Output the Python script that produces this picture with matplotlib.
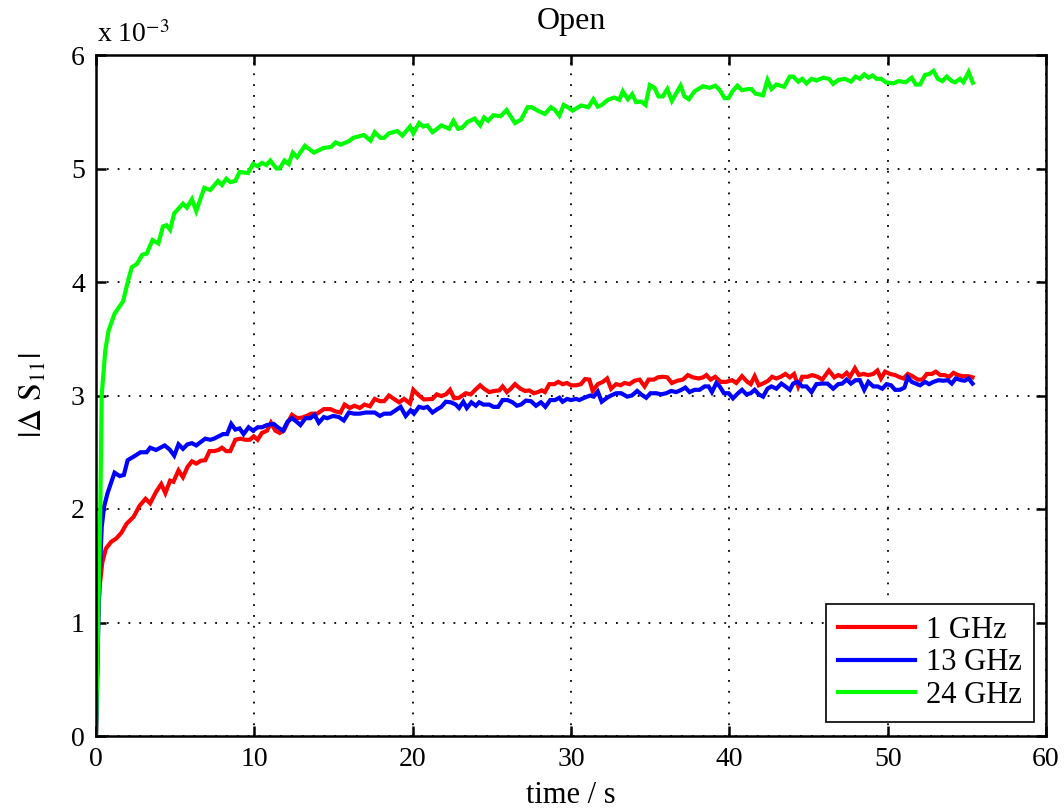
import matplotlib
matplotlib.use("Agg")
import matplotlib.pyplot as plt

# ---------------- data (values in units of 1e-3) ----------------
t_1ghz = [0, 0.12, 0.23, 0.4, 0.62, 0.95, 1.28, 1.6, 1.93, 2.37, 2.76, 3.13, 3.42, 3.79, 4.12, 4.38,
          4.68, 4.89, 5.21, 5.49, 5.78, 6.06, 6.33, 6.62, 6.9, 7.17, 7.46, 7.74, 7.95, 8.23, 8.48, 8.8,
          9.11, 9.43, 9.71, 9.96, 10.21, 10.48, 10.8, 11.05, 11.33, 11.6, 11.86, 12.1, 12.38, 12.7, 13.0,
          13.3, 13.6, 13.97, 14.39, 14.8, 15.13, 15.44, 15.7, 16.03, 16.33, 16.66, 16.96, 17.3, 17.6,
          17.93, 18.2, 18.5, 18.82, 19.14, 19.46, 19.83, 20.04, 20.4, 20.72, 21.25, 21.52, 21.81, 22.1,
          22.36, 22.62, 22.93, 23.35, 23.67, 23.99, 24.26, 24.51, 24.83, 25.15, 25.47, 25.68, 25.95, 26.2,
          26.46, 26.8, 27.1, 27.37, 27.65, 27.9, 28.15, 28.35, 28.63, 28.95, 29.2, 29.47, 29.75, 30.0,
          30.32, 30.63, 30.89, 31.16, 31.37, 31.69, 32.01, 32.28, 32.53, 32.85, 33.12, 33.38, 33.7, 34.01,
          34.33, 34.65, 34.9, 35.24, 35.49, 35.8, 36.08, 36.37, 36.71, 37.07, 37.38, 37.7, 38.06, 38.34,
          38.55, 38.82, 39.11, 39.45, 39.81, 40.17, 40.44, 40.8, 41.14, 41.35, 41.6, 41.86, 42.19, 42.45,
          42.7, 42.97, 43.25, 43.54, 43.82, 44.09, 44.35, 44.6, 44.94, 45.23, 45.57, 45.87, 46.29, 46.63,
          46.88, 47.13, 47.41, 47.62, 47.93, 48.18, 48.46, 48.78, 49.09, 49.35, 49.58, 49.83, 50.15, 50.47,
          50.78, 51.0, 51.27, 51.57, 51.9, 52.2, 52.47, 52.79, 53.04, 53.32, 53.59, 53.89, 54.16, 54.44,
          54.73, 55.11, 55.36]
s_1ghz = [0, 1.0, 1.32, 1.53, 1.65, 1.71, 1.74, 1.79, 1.87, 1.93, 2.03, 2.09, 2.05, 2.15, 2.22, 2.14,
          2.25, 2.24, 2.34, 2.28, 2.37, 2.42, 2.40, 2.425, 2.43, 2.51, 2.51, 2.52, 2.54, 2.51, 2.51, 2.61,
          2.62, 2.61, 2.61, 2.64, 2.61, 2.67, 2.69, 2.76, 2.69, 2.67, 2.69, 2.76, 2.83, 2.80, 2.805,
          2.82, 2.84, 2.84, 2.88, 2.88, 2.86, 2.85, 2.92, 2.89, 2.91, 2.89, 2.92, 2.905, 2.97,
          2.95, 2.95, 3.00, 2.97, 2.94, 2.97, 2.93, 3.05, 3.00, 2.965, 2.97, 3.01, 2.995, 3.01,
          3.05, 2.975, 2.98, 3.02, 3.01, 3.055, 3.09, 3.06, 3.03, 3.04, 3.045, 3.08, 3.03, 3.06,
          3.10, 3.06, 3.04, 3.045, 3.02, 3.03, 3.045, 3.03, 3.10, 3.10, 3.12, 3.10, 3.11, 3.09,
          3.09, 3.10, 3.145, 3.14, 3.04, 3.10, 3.12, 3.15, 3.06, 3.10, 3.09, 3.11, 3.10, 3.13,
          3.14, 3.08, 3.14, 3.14, 3.16, 3.165, 3.16, 3.11, 3.13, 3.14, 3.18, 3.16, 3.15, 3.16,
          3.18, 3.14, 3.165, 3.12, 3.12, 3.135, 3.11, 3.17, 3.12, 3.10, 3.17, 3.09, 3.11, 3.13,
          3.165, 3.15, 3.165, 3.19, 3.16, 3.19, 3.08, 3.165, 3.165, 3.18, 3.165, 3.14, 3.22, 3.16,
          3.18, 3.165, 3.20, 3.165, 3.24, 3.18, 3.19, 3.18, 3.19, 3.22, 3.15, 3.21, 3.19, 3.18,
          3.16, 3.15, 3.19, 3.17, 3.14, 3.14, 3.19, 3.19, 3.21, 3.18, 3.18, 3.165, 3.20, 3.18,
          3.17, 3.17, 3.16]

t_13ghz = [0, 0.18, 0.36, 0.51, 0.73, 1.17, 1.5, 1.76, 2.0, 2.48, 2.81, 3.2, 3.42, 3.79, 4.34,
           4.68, 4.94, 5.21, 5.49, 5.78, 6.06, 6.33, 6.62, 6.9, 7.22, 7.46, 7.74, 8.02, 8.28, 8.54, 8.8,
           9.07, 9.32, 9.64, 9.92, 10.21, 10.48, 10.8, 11.22, 11.48, 11.81, 12.1, 12.38, 12.66, 12.91,
           13.23, 13.54, 13.8, 14.07, 14.39, 14.6, 14.98, 15.34, 15.65, 15.97, 16.29, 16.66, 17.03, 17.34,
           17.6, 17.93, 18.2, 18.6, 18.93, 19.24, 19.56, 19.87, 20.08, 20.4, 20.67, 20.93, 21.25, 21.56,
           21.81, 22.09, 22.41, 22.72, 22.93, 23.2, 23.42, 23.71, 23.99, 24.2, 24.47, 24.83, 25.1, 25.4,
           25.68, 25.99, 26.31, 26.58, 26.84, 27.15, 27.47, 27.79, 28.1, 28.38, 28.69, 28.99, 29.26, 29.47,
           29.75, 30.0, 30.32, 30.53, 30.84, 31.22, 31.43, 31.69, 31.94, 32.28, 32.53, 32.85, 33.17, 33.55,
           33.84, 34.18, 34.43, 34.75, 35.02, 35.38, 35.7, 36.01, 36.33, 36.65, 36.97, 37.22, 37.49, 37.8,
           38.12, 38.44, 38.69, 38.9, 39.18, 39.39, 39.66, 39.96, 40.23, 40.55, 40.8, 41.08, 41.35, 41.6,
           41.86, 42.13, 42.41, 42.66, 42.97, 43.29, 43.54, 43.82, 44.03, 44.3, 44.6, 44.87, 45.19, 45.5,
           45.82, 46.2, 46.56, 46.88, 47.13, 47.41, 47.68, 47.97, 48.24, 48.52, 48.78, 49.09, 49.37, 49.66,
           49.93, 50.21, 50.47, 50.78, 51.06, 51.27, 51.52, 51.77, 52.05, 52.36, 52.62, 52.89, 53.21, 53.52,
           53.8, 54.05, 54.3, 54.65, 54.86, 55.11, 55.36]
s_13ghz = [0, 1.2, 1.84, 2.02, 2.14, 2.32, 2.29, 2.30, 2.43, 2.47, 2.50, 2.50, 2.54, 2.52, 2.56,
           2.52, 2.47, 2.57, 2.53, 2.57, 2.58, 2.56, 2.59, 2.62, 2.61, 2.62, 2.64, 2.66, 2.66, 2.75, 2.70,
           2.71, 2.66, 2.72, 2.69, 2.72, 2.72, 2.74, 2.75, 2.72, 2.69, 2.77, 2.80, 2.77, 2.74,
           2.80, 2.80, 2.83, 2.76, 2.81, 2.80, 2.82, 2.81, 2.78, 2.85, 2.84, 2.84, 2.85, 2.85,
           2.85, 2.82, 2.84, 2.84, 2.87, 2.90, 2.82, 2.87, 2.84, 2.90, 2.89, 2.90, 2.85, 2.88,
           2.90, 2.945, 2.94, 2.92, 2.89, 2.945, 2.89, 2.94, 2.91, 2.94, 2.92, 2.92, 2.90, 2.90,
           2.96, 2.96, 2.94, 2.91, 2.92, 2.955, 2.95, 2.91, 2.94, 2.90, 2.96, 2.96, 2.98, 2.945,
           2.97, 2.96, 2.97, 2.96, 2.98, 3.00, 2.99, 3.035, 2.945, 2.98, 3.00, 3.02, 3.02, 2.99,
           3.00, 3.04, 3.01, 2.98, 3.02, 3.02, 3.01, 3.02, 3.04, 3.03, 3.05, 3.07, 3.03, 3.05,
           3.05, 3.08, 3.08, 3.03, 3.11, 3.08, 3.02, 3.02, 2.975, 3.02, 3.05, 3.01, 3.02, 3.05,
           3.01, 2.99, 3.06, 3.08, 3.06, 3.105, 3.08, 3.05, 3.105, 3.12, 3.08, 3.08, 3.03, 3.10,
           3.105, 3.105, 3.06, 3.10, 3.105, 3.14, 3.105, 3.135, 3.135, 3.05, 3.12, 3.08, 3.08, 3.06,
           3.10, 3.09, 3.05, 3.05, 3.07, 3.16, 3.12, 3.105, 3.09, 3.12, 3.10, 3.12, 3.135, 3.13,
           3.135, 3.105, 3.15, 3.135, 3.13, 3.15, 3.105]

t_24ghz = [0, 0.27, 0.36, 0.58, 0.79, 1.17, 1.71, 2.04, 2.26, 2.59, 2.92, 3.2, 3.57, 3.94, 4.23, 4.45,
           4.68, 4.94, 5.49, 5.74, 6.06, 6.33, 6.84, 7.22, 7.7, 7.95, 8.23, 8.48, 8.8, 9.07, 9.6, 9.92,
           10.21, 10.48, 10.76, 11.01, 11.39, 11.6, 11.9, 12.17, 12.43, 12.7, 13.19, 13.76, 14.35, 14.85,
           15.13, 15.44, 15.97, 16.24, 16.92, 17.34, 17.6, 17.97, 18.2, 18.5, 19.03, 19.35, 19.83, 20.04,
           20.4, 20.67, 20.93, 21.25, 21.46, 21.81, 22.3, 22.57, 22.87, 23.13, 23.46, 23.92, 24.26, 24.51,
           24.77, 25.1, 25.55, 25.93, 26.46, 26.84, 27.26, 27.52, 27.89, 28.35, 28.73, 28.99, 29.26, 29.54,
           29.79, 30.1, 30.63, 31.1, 31.41, 31.69, 31.94, 32.32, 32.74, 33.05, 33.27, 33.59, 33.86, 34.11,
           34.43, 34.7, 34.98, 35.28, 35.52, 35.8, 36.08, 36.37, 36.92, 37.17, 37.45, 37.8, 38.34, 38.76,
           39.11, 39.4, 39.7, 39.95, 40.2, 40.51, 40.8, 41.2, 41.4, 41.65, 42.13, 42.41, 42.66, 42.97,
           43.46, 43.82, 44.03, 44.35, 44.6, 44.87, 45.19, 45.5, 45.93, 46.29, 46.56, 46.88, 47.3, 47.68,
           47.97, 48.24, 48.52, 48.78, 49.05, 49.3, 49.6, 49.87, 50.36, 50.68, 51.14, 51.52, 51.77, 52.05,
           52.36, 52.6, 52.89, 53.17, 53.45, 53.73, 54.05, 54.26, 54.57, 54.78, 55.11, 55.38]
s_24ghz = [0, 2.0, 3.0, 3.39, 3.57, 3.72, 3.83, 4.02, 4.13, 4.16, 4.24, 4.25, 4.37, 4.34, 4.49, 4.50,
           4.46, 4.605, 4.69, 4.655, 4.73, 4.625, 4.83, 4.81, 4.89, 4.855, 4.91, 4.88, 4.89, 4.97, 4.96, 5.04,
           5.02, 5.05, 5.03, 5.07, 5.0, 5.0, 5.07, 5.04, 5.14, 5.10, 5.2, 5.14, 5.18, 5.19,
           5.23, 5.21, 5.24, 5.27, 5.295, 5.245, 5.32, 5.27, 5.27, 5.31, 5.33, 5.29, 5.37, 5.31,
           5.40, 5.37, 5.38, 5.32, 5.34, 5.38, 5.35, 5.42, 5.35, 5.36, 5.41, 5.44, 5.38, 5.45,
           5.42, 5.47, 5.46, 5.515, 5.40, 5.43, 5.54, 5.54, 5.51, 5.48, 5.54, 5.515, 5.465, 5.56,
           5.54, 5.51, 5.555, 5.54, 5.61, 5.545, 5.56, 5.605, 5.625, 5.605, 5.68, 5.61, 5.655, 5.585,
           5.59, 5.56, 5.735, 5.71, 5.635, 5.635, 5.70, 5.595, 5.73, 5.635, 5.61, 5.68, 5.725, 5.71,
           5.73, 5.69, 5.62, 5.62, 5.68, 5.73, 5.69, 5.70, 5.70, 5.66, 5.645, 5.78, 5.70, 5.74,
           5.72, 5.81, 5.81, 5.765, 5.79, 5.75, 5.79, 5.775, 5.80, 5.79, 5.745, 5.78, 5.79, 5.765,
           5.81, 5.79, 5.83, 5.80, 5.82, 5.79, 5.79, 5.76, 5.75, 5.77, 5.76, 5.80, 5.74, 5.74,
           5.825, 5.83, 5.86, 5.79, 5.77, 5.81, 5.77, 5.76, 5.79, 5.76, 5.85, 5.755]

series_labels = ["1 GHz", "13 GHz", "24 GHz"]
series_colors = ["#ff0000", "#0000ff", "#00ff00"]
x_ticks = [0, 10, 20, 30, 40, 50, 60]
y_ticks = [0, 1, 2, 3, 4, 5, 6]

# ---------------- style ----------------
plt.rcParams['font.family'] = ['Liberation Serif', 'DejaVu Serif']
plt.rcParams['mathtext.fontset'] = 'stix'

fig = plt.figure(figsize=(10.64, 8.11), dpi=100)
ax = fig.add_axes([96 / 1064, 75 / 811, 950 / 1064, 681 / 811])

for t, s, lab, col in zip([t_1ghz, t_13ghz, t_24ghz], [s_1ghz, s_13ghz, s_24ghz],
                          series_labels, series_colors):
    ax.plot(t, s, color=col, lw=3.0, label=lab, solid_joinstyle='miter')

ax.set_xlim(0, 60)
ax.set_ylim(0, 6)
ax.set_xticks(x_ticks)
ax.set_yticks(y_ticks)
ax.set_xticklabels([str(v) for v in x_ticks])
ax.set_yticklabels([str(v) for v in y_ticks])

ax.grid(True, color='k', linestyle=(0, (1, 5)), linewidth=1.3)
ax.tick_params(direction='in', length=7, width=1.8, top=True, right=True,
               labelsize=20, pad=8, colors='k')
for sp in ax.spines.values():
    sp.set_linewidth(1.8)

ax.set_title('Open', fontsize=23, pad=19)
ax.set_xlabel('time / s', fontsize=22)
ax.xaxis.set_label_coords(0.5, -0.066)
ax.set_ylabel(r'$|\Delta\ \mathrm{S}_{11}|$', fontsize=23)
ax.yaxis.set_label_coords(-0.05, 0.5)

fig.text(97 / 1064, 1 - 35 / 811, r'x 10$^{-3}$', fontsize=20, ha='left', va='center')

leg = ax.legend(loc='lower right', bbox_to_anchor=(0.987, 0.02), borderaxespad=0,
                fontsize=22, handlelength=2.5, handletextpad=0.35, labelspacing=0.12,
                borderpad=0.4, fancybox=False, framealpha=1)
leg.get_frame().set_edgecolor('k')
leg.get_frame().set_linewidth(1.2)

fig.savefig('out.png', dpi=100)
